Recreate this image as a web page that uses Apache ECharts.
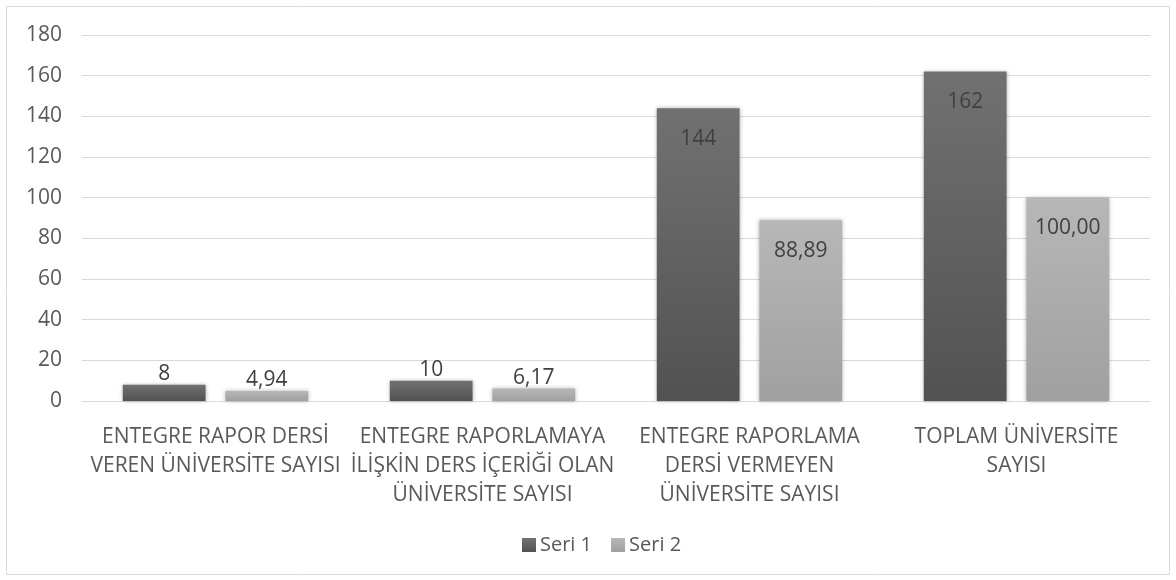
<!DOCTYPE html>
<html><head><meta charset="utf-8">
<script src="https://cdn.jsdelivr.net/npm/echarts@6/dist/echarts.min.js"></script>
<style>html,body{margin:0;padding:0;background:#fff}#c{width:1176px;height:580px}</style>
</head><body><div id="c"></div>
<script>
const categories = [
  "ENTEGRE RAPOR DERSİ\nVEREN ÜNİVERSİTE SAYISI",
  "ENTEGRE RAPORLAMAYA\nİLİŞKİN DERS İÇERİĞİ OLAN\nÜNİVERSİTE SAYISI",
  "ENTEGRE RAPORLAMA\nDERSİ VERMEYEN\nÜNİVERSİTE SAYISI",
  "TOPLAM ÜNİVERSİTE\nSAYISI"
];
const seri1 = [8, 10, 144, 162];
const seri2 = [4.94, 6.17, 88.89, 100.00];
const yTicks = { min: 0, max: 180, interval: 20 };

const FONT = '"Open Sans", "Noto Sans", sans-serif';
const chart = echarts.init(document.getElementById('c'));
function mk(vals) {
  return vals.map(v => ({
    value: v,
    label: { position: v < 30 ? 'top' : 'insideTop', distance: v < 30 ? 0 : 20 }
  }));
}
const fmt2 = p => p.value.toFixed(2).replace('.', ',');
const fmt0 = p => String(p.value);
const grad = (a, b) => new echarts.graphic.LinearGradient(0, 0, 0, 1, [{offset: 0, color: a}, {offset: 1, color: b}]);
chart.setOption({
  animation: false,
  textStyle: { fontFamily: FONT },
  graphic: [{ type: 'rect', shape: { x: 6.5, y: 6.5, width: 1163, height: 568 }, style: { fill: 'none', stroke: '#d9d9d9', lineWidth: 1 }, z: -1 }],
  grid: { left: 82, right: 26, top: 35, bottom: 179, containLabel: false },
  legend: {
    top: 530, left: 517,
    itemWidth: 14, itemHeight: 14, itemGap: 19,
    icon: 'rect',
    textStyle: { fontSize: 20, color: '#595959', fontFamily: FONT, padding: [0, 0, 0, -1] },
    data: ['Seri 1', 'Seri 2']
  },
  xAxis: {
    type: 'category', data: categories,
    axisTick: { show: false },
    axisLine: { lineStyle: { color: '#d9d9d9', width: 1 } },
    axisLabel: { interval: 0, fontSize: 21, color: '#595959', lineHeight: 29, margin: 22, fontFamily: FONT }
  },
  yAxis: {
    type: 'value', min: yTicks.min, max: yTicks.max, interval: yTicks.interval,
    axisLine: { show: false }, axisTick: { show: false },
    splitLine: { lineStyle: { color: '#d9d9d9', width: 1 } },
    axisLabel: { fontSize: 21, color: '#595959', margin: 20, fontFamily: FONT }
  },
  series: [
    {
      name: 'Seri 1', type: 'bar', data: mk(seri1), barWidth: '31%', barGap: '24%',
      itemStyle: { color: grad('#717171', '#525252'), shadowColor: 'rgba(0,0,0,0.3)', shadowBlur: 4 },
      label: { show: true, formatter: fmt0, fontSize: 21, color: '#404040', fontFamily: FONT }
    },
    {
      name: 'Seri 2', type: 'bar', data: mk(seri2), barWidth: '31%',
      itemStyle: { color: grad('#b7b7b7', '#a0a0a0'), shadowColor: 'rgba(0,0,0,0.3)', shadowBlur: 4 },
      label: { show: true, formatter: fmt2, fontSize: 21, color: '#404040', fontFamily: FONT }
    }
  ]
});
</script></body></html>
